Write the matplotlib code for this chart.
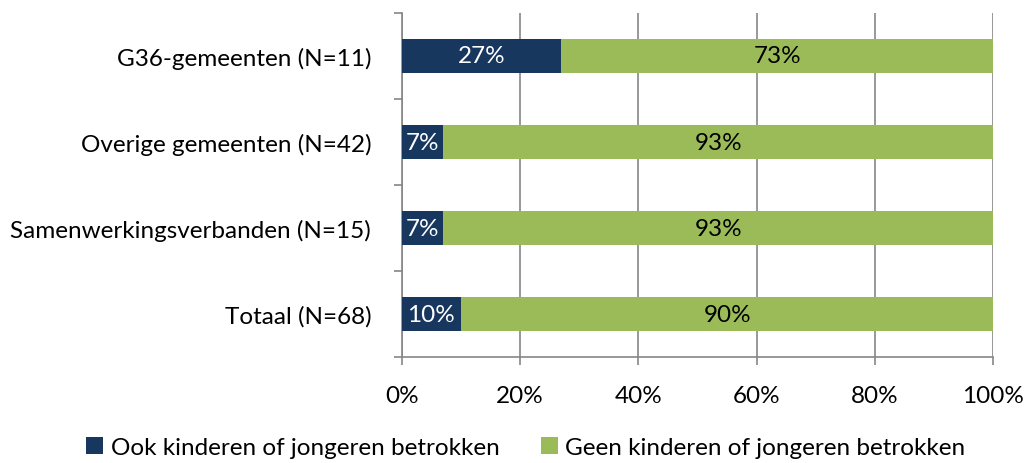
import numpy as np
import matplotlib
matplotlib.use("Agg")
import matplotlib.pyplot as plt
from matplotlib.ticker import FixedLocator, PercentFormatter

plt.rcParams['font.family'] = ['Lato', 'DejaVu Sans']

categories = ["G36-gemeenten (N=11)", "Overige gemeenten (N=42)",
              "Samenwerkingsverbanden (N=15)", "Totaal (N=68)"]
ook = [27, 7, 7, 10]
geen = [73, 93, 93, 90]
series_names = ["Ook kinderen of jongeren betrokken",
                "Geen kinderen of jongeren betrokken"]
colors = ["#17375E", "#9BBB59"]

fs = 17.5

fig = plt.figure(figsize=(10.25, 4.64), dpi=100)
ax = fig.add_axes([0.392, 0.228, 0.577, 0.742])

y = np.arange(len(categories))[::-1]
b1 = ax.barh(y, ook, height=0.4, color=colors[0], label=series_names[0], zorder=3)
b2 = ax.barh(y, geen, left=ook, height=0.4, color=colors[1], label=series_names[1], zorder=3)

for bars, vals, lefts in [(b1, ook, [0]*4), (b2, geen, ook)]:
    for yy, v, l in zip(y, vals, lefts):
        ax.text(l + v / 2, yy, f"{v}%", ha="center", va="center",
                color="white" if bars is b1 else "black", fontsize=fs, zorder=4)

ax.set_xlim(0, 100)
ax.set_ylim(-0.5, len(categories) - 0.5)
ax.set_xticks([0, 20, 40, 60, 80, 100])
ax.xaxis.set_major_formatter(PercentFormatter(decimals=0))
ax.set_yticks(y)
ax.set_yticklabels(categories)
ax.yaxis.set_minor_locator(FixedLocator(np.arange(-0.5, len(categories), 1.0)))
ax.tick_params(axis="y", which="major", length=0, pad=22, labelsize=fs)
ax.tick_params(axis="y", which="minor", length=6, direction="out", color="#868686", width=1.2)
ax.tick_params(axis="x", length=6, direction="out", color="#868686", width=1.2, labelsize=fs, pad=14)

ax.grid(axis="x", color="#868686", linewidth=1.2, zorder=0)
for s in ["top", "right"]:
    ax.spines[s].set_visible(False)
for s in ["left", "bottom"]:
    ax.spines[s].set_color("#868686")
    ax.spines[s].set_linewidth(1.2)

fig.legend(handles=[b1, b2], loc="lower center", bbox_to_anchor=(0.513, -0.036), ncol=2,
           frameon=False, fontsize=fs, handlelength=0.7, handleheight=0.7,
           handletextpad=0.3, columnspacing=1.7)

fig.savefig("out.png", dpi=100)
